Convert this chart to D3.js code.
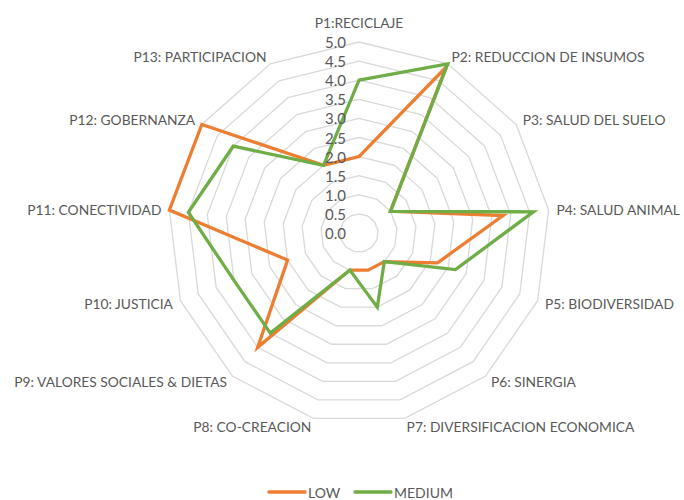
<!DOCTYPE html>
<html>
<head>
<meta charset="utf-8">
<script src="https://cdn.jsdelivr.net/npm/d3@7"></script>
<style>
  body { margin: 0; background: #fff; }
  text { font-family: Lato, "Liberation Sans", sans-serif; fill: #595959; }
</style>
</head>
<body>
<svg id="stage" width="684" height="500"></svg>
<script>
var categories = ['P1:RECICLAJE', 'P2: REDUCCION DE INSUMOS', 'P3: SALUD DEL SUELO',
      'P4: SALUD ANIMAL', 'P5: BIODIVERSIDAD', 'P6: SINERGIA',
      'P7: DIVERSIFICACION ECONOMICA', 'P8: CO-CREACION',
      'P9: VALORES SOCIALES & DIETAS', 'P10: JUSTICIA', 'P11: CONECTIVIDAD',
      'P12: GOBERNANZA', 'P13: PARTICIPACION'],
    low = [2.0, 4.9, 1.0, 3.8, 2.2, 1.0, 1.0, 1.0, 4.0, 2.0, 5.0, 5.0, 2.0],
    medium = [4.0, 5.0, 1.0, 4.6, 2.7, 1.0, 2.0, 1.0, 3.5, 3.5, 4.5, 4.0, 2.0],
    ticks = [0, 0.5, 1, 1.5, 2, 2.5, 3, 3.5, 4, 4.5, 5],
    seriesNames = ['LOW', 'MEDIUM'],
    seriesColors = ['#ED7D31', '#70AD47'];

var svg = d3.select('#stage'),
    CX = 359,
    CY = 233,
    R = 191,
    N = categories.length;

var r = d3.scaleLinear().domain([0, 5]).range([0, R]);
var angle = d3.scaleLinear().domain([0, N]).range([0, 2 * Math.PI]);

function point(i, v) {
  var a = angle(i);
  return [CX + r(v) * Math.sin(a), CY - r(v) * Math.cos(a)];
}

var line = d3.line();

// grid rings (no spokes, like the original)
svg.append('g')
  .selectAll('path')
  .data(ticks.filter(function (t) { return t > 0; }))
  .enter().append('path')
    .attr('d', function (t) {
      return line(d3.range(N).map(function (i) { return point(i, t); })) + 'Z';
    })
    .attr('fill', 'none')
    .attr('stroke', '#d9d9d9')
    .attr('stroke-width', 1.3);

// series
[low, medium].forEach(function (vals, s) {
  svg.append('path')
    .attr('d', line(vals.map(function (v, i) { return point(i, v); })) + 'Z')
    .attr('fill', 'none')
    .attr('stroke', seriesColors[s])
    .attr('stroke-width', 3.3)
    .attr('stroke-linejoin', 'miter');
});

// tick labels
svg.append('g')
  .selectAll('text')
  .data(ticks)
  .enter().append('text')
    .attr('x', CX - 13)
    .attr('y', function (t) { return CY - r(t); })
    .attr('text-anchor', 'end')
    .attr('dominant-baseline', 'central')
    .style('font-size', '15px')
    .text(function (t) { return t.toFixed(1); });

// category labels
svg.append('g')
  .selectAll('text')
  .data(categories)
  .enter().append('text')
    .each(function (d, i) {
      var a = angle(i),
          s = Math.sin(a),
          c = Math.cos(a),
          p = [CX + (R + 8) * s, CY - (R + 8) * c],
          anchor = Math.abs(s) < 0.1 ? 'middle' : (s > 0 ? 'start' : 'end');
      if (anchor === 'middle') p[1] -= 12;
      d3.select(this)
        .attr('x', p[0])
        .attr('y', p[1])
        .attr('text-anchor', anchor)
        .attr('dominant-baseline', 'central');
    })
    .style('font-size', '13.8px')
    .text(function (d) { return d; });

// legend
var legend = svg.append('g')
  .selectAll('g')
  .data(seriesNames)
  .enter().append('g')
    .attr('transform', function (d, i) { return 'translate(' + [269 + i * 86, 492] + ')'; });

legend.append('line')
  .attr('x1', 0).attr('x2', 36)
  .attr('stroke', function (d, i) { return seriesColors[i]; })
  .attr('stroke-width', 3.3)
  .attr('stroke-linecap', 'round');

legend.append('text')
  .attr('x', 39)
  .attr('dominant-baseline', 'central')
  .style('font-size', '14px')
  .text(function (d) { return d; });
</script>
</body>
</html>
